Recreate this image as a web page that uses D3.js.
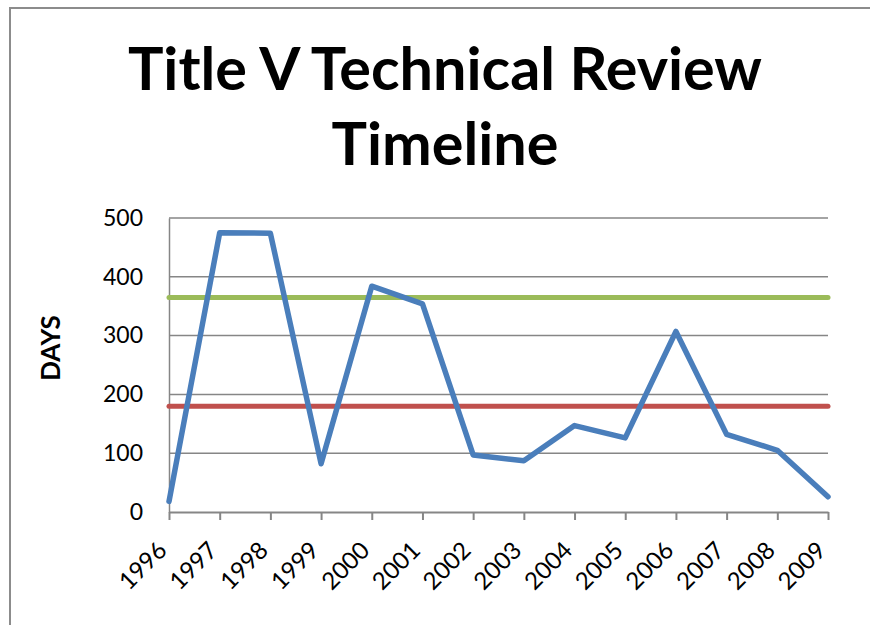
<!DOCTYPE html>
<html>
<head>
<meta charset="utf-8">
<script src="https://d3js.org/d3.v7.min.js"></script>
<style>
  body { margin: 0; background: #fff; }
  text { font-family: Lato, "Open Sans", sans-serif; fill: #000; }
</style>
</head>
<body>
<div id="chart"></div>
<script>
// Data
const years = ["1996", "1997", "1998", "1999", "2000", "2001", "2002",
               "2003", "2004", "2005", "2006", "2007", "2008", "2009"];
const days = [18, 475, 474, 82, 384, 354, 97, 87, 147, 126, 307, 132, 105, 26];
const targets = [365, 180];
const targetColors = ["#9bbb59", "#c0504d"];
const yTicks = [0, 100, 200, 300, 400, 500];

// Sizing
const W = 870, H = 625;
const margin = { top: 218, right: 42, bottom: 113, left: 169 };
const width = W - margin.left - margin.right;
const height = H - margin.top - margin.bottom;

const svg = d3.select("#chart")
    .append("svg")
    .attr("width", W)
    .attr("height", H);

// chart frame
svg.append("rect")
    .attr("x", 10).attr("y", 8)
    .attr("width", 900).attr("height", 700)
    .attr("fill", "none")
    .attr("stroke", "#8c8c8c")
    .attr("stroke-width", 2);

// Title
const titleLines = ["Title V Technical Review", "Timeline"];
const title = svg.append("g");
titleLines.forEach((t, i) => {
    title.append("text")
        .attr("x", 445)
        .attr("y", 90 + i * 75)
        .attr("text-anchor", "middle")
        .attr("font-weight", "bold")
        .attr("font-size", 56)
        .text(t);
});
// fit title to the width of the reference
const first = title.select("text").node();
const k = 634 / first.getComputedTextLength();
title.selectAll("text").attr("font-size", 56 * k);

const plot = svg.append("g")
    .attr("transform", `translate(${margin.left},${margin.top})`);

const x = d3.scalePoint().domain(years).range([0, width]);
const y = d3.scaleLinear().domain([0, 500]).range([height, 0]);

// Gridlines
plot.append("g")
    .selectAll("line")
    .data(yTicks.filter(d => d > 0))
    .enter()
    .append("line")
        .attr("x1", 0).attr("x2", width)
        .attr("y1", d => y(d)).attr("y2", d => y(d))
        .attr("stroke", "#868686")
        .attr("stroke-width", 1.5);

// Y axis
const yAxis = plot.append("g")
    .call(d3.axisLeft(y).tickValues(yTicks).tickSize(0).tickPadding(26));
yAxis.select(".domain").attr("stroke", "#868686").attr("stroke-width", 1.5);
yAxis.selectAll("text")
    .attr("font-size", 23)
    .attr("font-family", "Lato, sans-serif")
    .attr("fill", "#000");

// X axis
const xAxis = plot.append("g")
    .attr("transform", `translate(0,${height})`)
    .call(d3.axisBottom(x).tickSize(8).tickSizeOuter(0));
xAxis.select(".domain").attr("stroke", "#868686").attr("stroke-width", 2);
xAxis.selectAll(".tick line").attr("stroke", "#868686").attr("stroke-width", 2);
xAxis.selectAll("text")
    .attr("font-size", 24)
    .attr("font-family", "Lato, sans-serif")
    .attr("fill", "#000")
    .attr("text-anchor", "end")
    .attr("dy", 0)
    .attr("transform", "translate(-9,32) rotate(-45)");

// Y axis title
svg.append("text")
    .attr("transform", "translate(60,348) rotate(-90)")
    .attr("text-anchor", "middle")
    .attr("font-weight", "bold")
    .attr("font-size", 26)
    .text("DAYS");

// Target lines
plot.append("g")
    .selectAll("line")
    .data(targets)
    .enter()
    .append("line")
        .attr("x1", 0).attr("x2", width)
        .attr("y1", d => y(d)).attr("y2", d => y(d))
        .attr("stroke", (d, i) => targetColors[i])
        .attr("stroke-width", 5)
        .attr("stroke-linecap", "round");

// Series
const line = d3.line()
    .x((d, i) => x(years[i]))
    .y(d => y(d));

plot.append("path")
    .datum(days)
    .attr("d", line)
    .attr("fill", "none")
    .attr("stroke", "#4a7ebb")
    .attr("stroke-width", 5.5)
    .attr("stroke-linejoin", "round")
    .attr("stroke-linecap", "round");
</script>
</body>
</html>
